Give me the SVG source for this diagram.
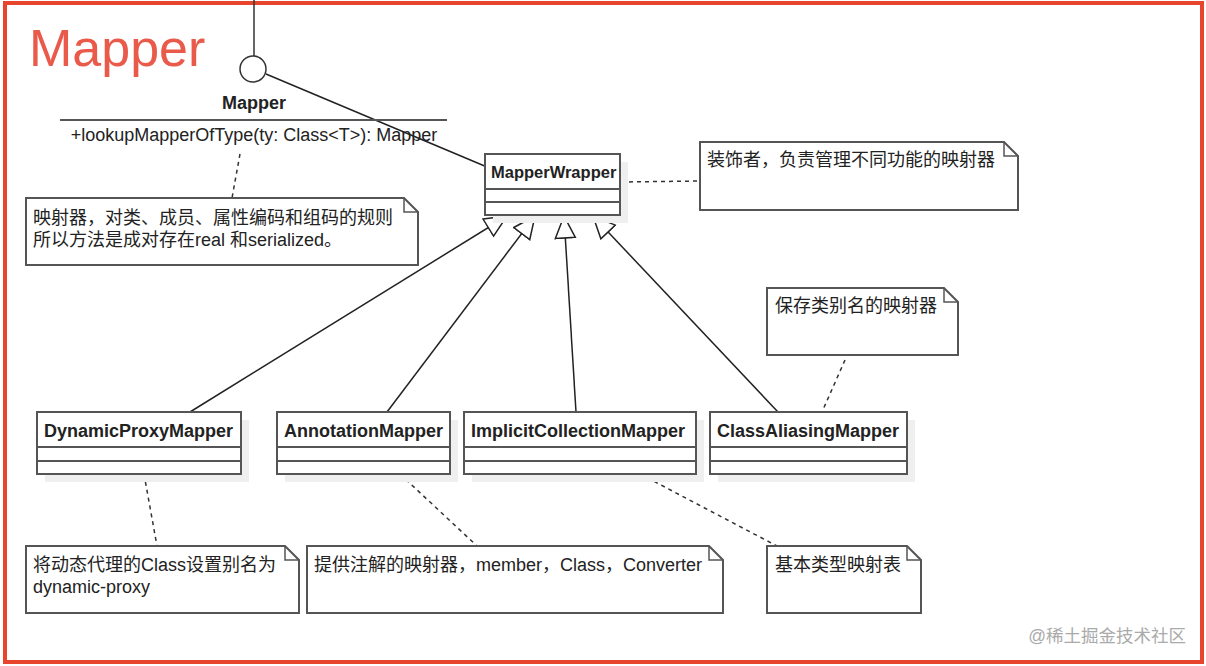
<svg xmlns="http://www.w3.org/2000/svg" width="1206" height="666" viewBox="0 0 1206 666">
<style>
text{font-family:"Liberation Sans","Noto Sans CJK SC",sans-serif;fill:#222}
.cls{fill:#fff;stroke:#555;stroke-width:2}
.sh{fill:#efefef}
.div{stroke:#555;stroke-width:2}
.nm{font-size:18px;font-weight:bold}
.nt{font-size:18px}
.note{fill:#fff;stroke:#555;stroke-width:2}
.dash{stroke:#333;stroke-width:1.5;stroke-dasharray:4 4;fill:none}
.gen{stroke:#222;stroke-width:1.5;fill:none;marker-end:url(#tri)}
</style>
<defs>
<marker id="tri" markerUnits="userSpaceOnUse" markerWidth="26" markerHeight="24" refX="23" refY="11" orient="auto">
<path d="M1,1 L23,11 L1,21 Z" fill="#fff" stroke="#222" stroke-width="1.5"/>
</marker>
</defs>
<rect x="0" y="0" width="1206" height="666" fill="#fff"/>
<rect x="5" y="3" width="1197" height="659" fill="none" stroke="#e8452f" stroke-width="4"/>
<text x="29" y="66" style="font-size:52px;fill:#ea5a4b">Mapper</text>

<g id="connectors">
<line x1="254" y1="0" x2="254" y2="56" stroke="#333" stroke-width="1.5"/>
<line x1="266" y1="74" x2="487" y2="167" stroke="#222" stroke-width="1.5"/>
<line class="gen" x1="190" y1="412" x2="507" y2="216"/>
<line class="gen" x1="387" y1="412" x2="535" y2="216"/>
<line class="gen" x1="576" y1="412" x2="564" y2="216"/>
<line class="gen" x1="778" y1="412" x2="593" y2="216"/>
<line class="dash" x1="240" y1="154" x2="232" y2="198"/>
<line class="dash" x1="621" y1="182" x2="700" y2="181"/>
<line class="dash" x1="845" y1="360" x2="822" y2="412"/>
<line class="dash" x1="144" y1="474" x2="157" y2="546"/>
<line class="dash" x1="400" y1="474" x2="477" y2="546"/>
<line class="dash" x1="640" y1="474" x2="777" y2="546"/>
</g>

<g id="mapper">
<circle cx="253" cy="69" r="13" fill="#fff" stroke="#333" stroke-width="1.5"/>
<text x="254" y="109" class="nm" text-anchor="middle">Mapper</text>
<line x1="60" y1="120" x2="447" y2="120" stroke="#555" stroke-width="2"/>
<text x="254" y="141" class="nt" text-anchor="middle">+lookupMapperOfType(ty: Class&lt;T&gt;): Mapper</text>
</g>

<g id="mapperwrapper">
<rect class="sh" x="493" y="162" width="135" height="61"/>
<rect class="cls" x="485" y="154" width="135" height="61"/>
<line class="div" x1="485" y1="189" x2="620" y2="189"/>
<line class="div" x1="485" y1="202" x2="620" y2="202"/>
<text x="491" y="178" class="nm" style="font-size:16.5px">MapperWrapper</text>
</g>

<g id="dynamicproxymapper">
<rect class="sh" x="45" y="420" width="204" height="62"/>
<rect class="cls" x="37" y="412" width="204" height="62"/>
<line class="div" x1="37" y1="447" x2="241" y2="447"/>
<line class="div" x1="37" y1="461" x2="241" y2="461"/>
<text x="44" y="437" class="nm">DynamicProxyMapper</text>
</g>

<g id="annotationmapper">
<rect class="sh" x="285" y="420" width="173" height="62"/>
<rect class="cls" x="277" y="412" width="173" height="62"/>
<line class="div" x1="277" y1="447" x2="450" y2="447"/>
<line class="div" x1="277" y1="461" x2="450" y2="461"/>
<text x="284" y="437" class="nm">AnnotationMapper</text>
</g>

<g id="implicitcollectionmapper">
<rect class="sh" x="472" y="420" width="232" height="62"/>
<rect class="cls" x="464" y="412" width="232" height="62"/>
<line class="div" x1="464" y1="447" x2="696" y2="447"/>
<line class="div" x1="464" y1="461" x2="696" y2="461"/>
<text x="471" y="437" class="nm">ImplicitCollectionMapper</text>
</g>

<g id="classaliasingmapper">
<rect class="sh" x="718" y="420" width="197" height="62"/>
<rect class="cls" x="710" y="412" width="197" height="62"/>
<line class="div" x1="710" y1="447" x2="907" y2="447"/>
<line class="div" x1="710" y1="461" x2="907" y2="461"/>
<text x="717" y="437" class="nm">ClassAliasingMapper</text>
</g>

<g id="note-mapper">
<path class="note" d="M26,198 H404 L418,212 V265 H26 Z"/>
<path d="M404,198 V212 H418" fill="none" stroke="#555" stroke-width="1.5"/>
<text x="33" y="224" class="nt">映射器，对类、成员、属性编码和组码的规则</text>
<text x="33" y="246" class="nt">所以方法是成对存在real 和serialized。</text>
</g>

<g id="note-wrapper">
<path class="note" d="M700,142 H1004 L1018,156 V210 H700 Z"/>
<path d="M1004,142 V156 H1018" fill="none" stroke="#555" stroke-width="1.5"/>
<text x="707" y="166" class="nt">装饰者，负责管理不同功能的映射器</text>
</g>

<g id="note-aliasing">
<path class="note" d="M767,288 H944 L958,302 V355 H767 Z"/>
<path d="M944,288 V302 H958" fill="none" stroke="#555" stroke-width="1.5"/>
<text x="775" y="312" class="nt">保存类别名的映射器</text>
</g>

<g id="note-dynamic">
<path class="note" d="M26,546 H285 L299,560 V613 H26 Z"/>
<path d="M285,546 V560 H299" fill="none" stroke="#555" stroke-width="1.5"/>
<text x="33" y="571" class="nt">将动态代理的Class设置别名为</text>
<text x="33" y="593" class="nt">dynamic-proxy</text>
</g>

<g id="note-annotation">
<path class="note" d="M307,546 H709 L723,560 V613 H307 Z"/>
<path d="M709,546 V560 H723" fill="none" stroke="#555" stroke-width="1.5"/>
<text x="314" y="571" class="nt">提供注解的映射器，member，Class，Converter</text>
</g>

<g id="note-implicit">
<path class="note" d="M767,546 H907 L921,560 V613 H767 Z"/>
<path d="M907,546 V560 H921" fill="none" stroke="#555" stroke-width="1.5"/>
<text x="775" y="571" class="nt">基本类型映射表</text>
</g>

<text x="1186" y="642" text-anchor="end" style="font-size:17.5px;fill:#aaa">@稀土掘金技术社区</text>
</svg>
